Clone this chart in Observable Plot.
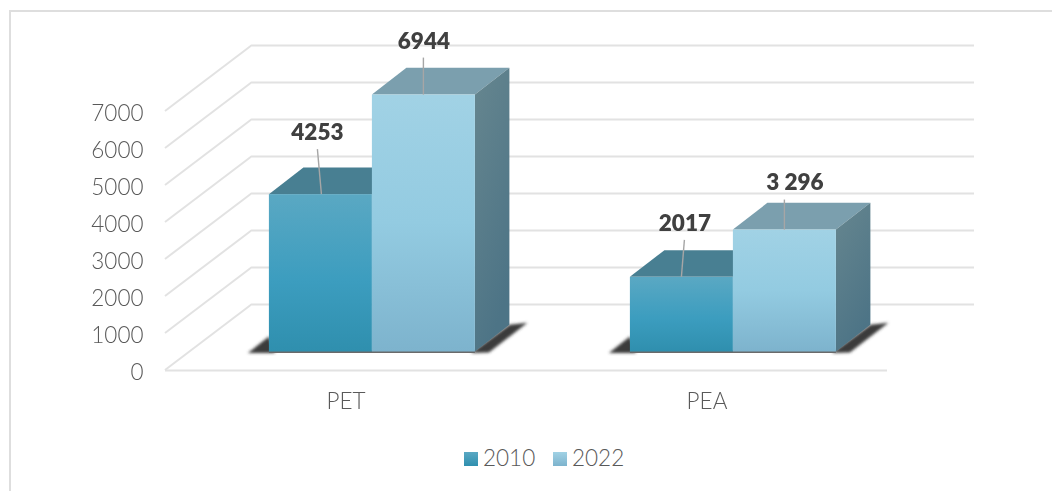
<!DOCTYPE html>
<html>
<head>
<meta charset="utf-8">
<script src="https://cdn.jsdelivr.net/npm/d3@7"></script>
<script src="https://cdn.jsdelivr.net/npm/@observablehq/plot@0.6"></script>
<style>
  html, body { margin: 0; padding: 0; background: #fff; width: 1052px; height: 491px; overflow: hidden; }
  #frame { position: absolute; left: 9px; top: 10px; width: 1060px; height: 500px; border: 2px solid #dedede; box-sizing: border-box; }
  #chart { position: absolute; left: 0; top: 0; }
  #chart svg { filter: blur(0.35px); }
  #legend { position: absolute; left: 0; top: 443px; width: 1052px; height: 30px; font: 300 22.5px Lato, sans-serif; color: #595959; }
  #legend span { position: absolute; top: 0; line-height: 30px; }
  #legend i { position: absolute; top: 9px; width: 14px; height: 14px; }
</style>
</head>
<body>
<div id="frame"></div>
<div id="chart"></div>
<div id="legend"></div>
<script>
const categories = ["PET", "PEA"];
const years = ["2010", "2022"];
const values2010 = [4253, 2017];
const values2022 = [6944, 3296];
const labels2010 = ["4253", "2017"];
const labels2022 = ["6944", "3 296"];
const yTicks = [0, 1000, 2000, 3000, 4000, 5000, 6000, 7000];

const rows = categories.flatMap((category, i) => [
  {category, year: years[0], value: values2010[i], label: labels2010[i]},
  {category, year: years[1], value: values2022[i], label: labels2022[i]}
]);

// Projection of the fake 3D box
const wall = {dx: 87, dy: -66};   // back wall, relative to front of the floor
const front = {dx: 25.9, dy: -18.5};  // front plane of the bars
const depth = {dx: 34.5, dy: -26.7}; // depth of a bar

// Per label nudges, in pixels from the top centre of the bar's front face
const nudge = {
  "PET2010": {lx: -3.5, ly: -62, x1: -3, y1: -45, x2: 1},
  "PET2022": {lx: 0, ly: -53, x1: 0, y1: -37, x2: 0},
  "PEA2010": {lx: 3, ly: -54, x1: 3, y1: -37, x2: 0},
  "PEA2022": {lx: 10, ly: -47.5, x1: 0, y1: -30, x2: 0}
};

const svgEl = (name, attrs) => {
  const el = document.createElementNS("http://www.w3.org/2000/svg", name);
  for (const k in attrs) el.setAttribute(k, attrs[k]);
  return el;
};

function gradients() {
  const g = svgEl("g", {});
  const defs = svgEl("defs", {});
  const add = (id, x2, y2, stops) => {
    const lg = svgEl("linearGradient", {id, x1: 0, y1: 0, x2, y2});
    stops.forEach(([o, c]) => lg.appendChild(svgEl("stop", {offset: o, "stop-color": c})));
    defs.appendChild(lg);
  };
  add("f2010", 0, 1, [[0, "#5aa8c3"], [0.55, "#3c9dbf"], [1, "#2f8fae"]]);
  add("f2022", 0, 1, [[0, "#a1d2e5"], [0.5, "#93cbe1"], [1, "#7db3cd"]]);
  add("side", 0.4, 1, [[0, "#66868f"], [1, "#4d7486"]]);
  const blur = svgEl("filter", {id: "soft", filterUnits: "userSpaceOnUse", x: 0, y: 200, width: 1052, height: 240});
  blur.appendChild(svgEl("feGaussianBlur", {stdDeviation: 1.6}));
  defs.appendChild(blur);
  g.appendChild(defs);
  return g;
}

// Side wall's diagonal gridlines
function diagonals(index, {y}, values, {marginLeft}) {
  const g = svgEl("g", {stroke: "#e2e2e2", "stroke-width": 2, fill: "none"});
  for (const i of index) {
    const t = yTicks[i];
    g.appendChild(svgEl("line", {x1: marginLeft, y1: y(t), x2: marginLeft + wall.dx, y2: y(t) + wall.dy}));
  }
  return g;
}

// Shadow under the two bars of a category
function shadows(index, {x, y}) {
  const left = x(years[0]) + front.dx, right = x(years[1]) + x.bandwidth() + front.dx;
  const base = y(0) + front.dy;
  const g = svgEl("g", {fill: "#3a3a3a"});
  const soft = svgEl("g", {filter: "url(#soft)"});
  soft.appendChild(svgEl("polygon", {points: `${left - 21},${base + 1.5} ${left},${base - 15} ${left + 6},${base + 1.5}`}));
  soft.appendChild(svgEl("polygon", {points: `${right - 4},${base + 1.5} ${right + depth.dx},${base + depth.dy} ${right + depth.dx + 18},${base + depth.dy - 2} ${right + 14},${base + 1}`}));
  g.appendChild(soft);
  g.appendChild(svgEl("rect", {x: left, y: base - 1, width: right - left, height: 2.5, fill: "#6a6a6a"}));
  return g;
}

// Top and side faces
function faces(index, {x, y}) {
  const g = svgEl("g", {});
  for (const i of index) {
    const r = rows[i];
    const x0 = x(r.year) + front.dx, x1 = x0 + x.bandwidth();
    const top = y(r.value) + front.dy, base = y(0) + front.dy;
    const P = pts => pts.map(p => p.join(",")).join(" ");
    g.appendChild(svgEl("polygon", {
      fill: r.year === years[0] ? "#487f92" : "#7b9fae",
      points: P([[x0, top], [x0 + depth.dx, top + depth.dy], [x1 + depth.dx, top + depth.dy], [x1, top]])
    }));
    g.appendChild(svgEl("polygon", {
      fill: "url(#side)",
      points: P([[x1, top], [x1 + depth.dx, top + depth.dy], [x1 + depth.dx, base + depth.dy], [x1, base]])
    }));
  }
  return g;
}

// Leader lines between labels and bars
function leaders(index, {x, y}) {
  const g = svgEl("g", {stroke: "#a6a6a6", "stroke-width": 1.4});
  for (const i of index) {
    const r = rows[i];
    const n = nudge[r.category + r.year];
    const cx = x(r.year) + x.bandwidth() / 2 + front.dx, top = y(r.value) + front.dy;
    g.appendChild(svgEl("line", {x1: cx + n.x1, y1: top + n.y1, x2: cx + n.x2, y2: top}));
  }
  return g;
}

const byBar = {fx: "category", x: "year", y: "value"};

const chart = Plot.plot({
  width: 1052,
  height: 440,
  marginLeft: 165,
  marginRight: 165,
  marginTop: 111,
  marginBottom: 70,
  style: {fontFamily: "Lato, sans-serif", background: "transparent", overflow: "visible"},
  fx: {domain: categories, padding: 0, label: null},
  x: {domain: years, paddingInner: 0, paddingOuter: 0.744, axis: null, label: null},
  y: {domain: [0, 7000], label: null},
  marks: [
    gradients,
    Plot.ruleY(yTicks, {fx: () => categories[0], render: diagonals}),
    Plot.gridY(yTicks, {dx: wall.dx, dy: wall.dy, stroke: "#e2e2e2", strokeOpacity: 1, strokeWidth: 2}),
    Plot.ruleY([0], {stroke: "#e2e2e2", strokeWidth: 2}),
    Plot.axisY({ticks: yTicks, tickFormat: d => String(d), tickSize: 0, tickPadding: 22, fontSize: 22.5, fontWeight: 300, color: "#595959", label: null, dy: 2}),
    Plot.axisFx({anchor: "bottom", tickSize: 0, tickPadding: 23, fontSize: 22.5, fontWeight: 300, color: "#595959", label: null}),
    Plot.barY(rows, {...byBar, render: shadows}),
    Plot.barY(rows, {...byBar, render: faces}),
    Plot.barY(rows, {
      ...byBar,
      fill: d => d.year === years[0] ? "url(#f2010)" : "url(#f2022)",
      dx: front.dx, dy: front.dy
    }),
    Plot.barY(rows, {...byBar, render: leaders}),
    ...rows.map(r => {
      const n = nudge[r.category + r.year];
      return Plot.text([r], {
        fx: "category", x: "year", y: "value", text: "label",
        dx: front.dx + n.lx, dy: front.dy + n.ly,
        fontSize: 22.5, fontWeight: 800, fill: "#404040"
      });
    })
  ]
});
document.getElementById("chart").appendChild(chart);

const legend = document.getElementById("legend");
[[464, 483, "linear-gradient(#5aa8c3,#2f8fae)"], [553, 572, "linear-gradient(#a1d2e5,#7db3cd)"]].forEach(([sx, tx, bg], i) => {
  const sw = document.createElement("i");
  sw.style.left = sx + "px";
  sw.style.background = bg;
  legend.appendChild(sw);
  const t = document.createElement("span");
  t.style.left = tx + "px";
  t.textContent = years[i];
  legend.appendChild(t);
});
</script>
</body>
</html>
